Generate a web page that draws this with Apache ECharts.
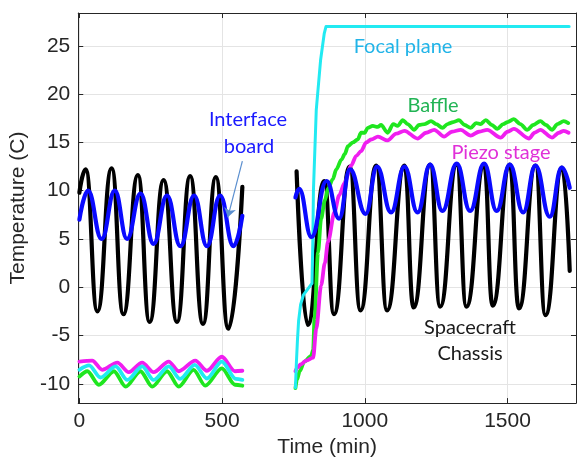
<!DOCTYPE html>
<html><head><meta charset="utf-8">
<script src="https://cdn.jsdelivr.net/npm/echarts@6/dist/echarts.min.js"></script>
<style>html,body{margin:0;padding:0;background:#fff}#c{width:577px;height:463px}</style>
</head><body><div id="c"></div>
<script>
// ---- data (time in min, temperature in C) ----
const chassisSeg1 = [[0,9.8],[22,12.2],[63,-2.5],[113,12.3],[154,-2.8],[205,11.6],[246,-3.6],[295,11.1],[342,-3.6],[388,11.5],[433,-3.8],[478,11.4],[522,-4.3],[571,10.4]];
const chassisSeg2 = [[761,12.0],[800,-3.9],[858,11.0],[892,-2.8],[947,12.5],[985,-2.4],[1040,12.6],[1078,-2.4],[1139,12.6],[1171,-2.1],[1229,12.7],[1264,-2.0],[1322,12.7],[1356,-2.0],[1418,12.7],[1448,-1.9],[1508,12.7],[1540,-2.2],[1598,12.6],[1633,-2.9],[1691,12.4],[1718,1.7]];
const boardSeg1 = [[0,7.0],[30,10.0],[78,5.0],[124,10.0],[167,5.0],[214,9.7],[260,4.5],[307,9.5],[354,4.25],[402,9.5],[447,4.25],[493,9.5],[540,4.25],[571,7.4]];
const boardSeg2 = [[757,9.3],[770,10.2],[813,5.2],[866,11.0],[910,7.1],[948,12.2],[1003,7.6],[1043,12.5],[1092,7.75],[1139,12.5],[1185,7.75],[1229,12.7],[1272,7.9],[1322,12.8],[1369,7.9],[1418,12.8],[1462,7.9],[1508,12.7],[1555,7.75],[1598,12.6],[1648,7.3],[1690,12.4],[1718,10.3]];
const focalSeg1 = [[0,-8.55],[34,-8.1],[74,-9.35],[127,-8.2],[168,-9.6],[220,-8.2],[260,-9.6],[313,-8.2],[353,-9.5],[404,-8.05],[447,-9.45],[499,-7.7],[548,-9.5],[571,-9.6]];
const focalSeg2 = [[757,-10.4],[760,-8.0],[764,-5.5],[768,-3.5],[775,-1.8],[785,-0.8],[800,-0.2],[815,0.4],[818,5.0],[820,10.0],[830,18.4],[845,23.5],[858,26.3],[864,27.0],[1000,27.0],[1200,27.0],[1400,27.0],[1600,27.0],[1716,27.0]];
const baffleSeg1 = [[0,-9.25],[28,-8.7],[68,-10.1],[121,-8.7],[162,-10.3],[214,-8.7],[255,-10.3],[307,-8.7],[348,-10.3],[400,-8.55],[441,-10.2],[499,-8.4],[545,-10.1],[571,-10.2]];
const baffleSeg2 = [[757,-10.45],[762,-9.6],[772,-8.7],[788,-7.7],[812,-7.1],[819,-6.5],[824,-3.2],[836,3.6],[847,7.1],[860,9.0],[871,10.2],[888,11.2],[900,12.2],[918,13.2],[930,13.8],[941,14.6],[958,15.0],[975,15.3],[987,16.0],[1000,16.0],[1010,16.5],[1028,16.7],[1045,16.6],[1057,16.8],[1080,16.0],[1100,16.9],[1115,16.7],[1133,17.3],[1150,16.9],[1173,16.3],[1190,16.8],[1210,16.9],[1232,17.2],[1250,16.9],[1272,16.5],[1290,16.9],[1310,17.1],[1330,17.3],[1350,16.8],[1371,16.5],[1390,17.0],[1405,16.9],[1424,17.3],[1445,16.8],[1464,16.4],[1485,16.9],[1500,17.1],[1522,17.4],[1545,16.9],[1569,16.3],[1590,16.8],[1615,17.2],[1635,16.8],[1656,16.3],[1675,16.9],[1697,17.2],[1713,17.0]];
const piezoSeg1 = [[0,-7.7],[45,-7.6],[80,-8.55],[133,-7.8],[173,-8.8],[220,-7.8],[260,-8.8],[313,-7.7],[348,-8.7],[406,-7.6],[447,-8.65],[499,-7.2],[545,-8.7],[571,-8.65]];
const piezoSeg2 = [[757,-8.7],[765,-8.3],[775,-8.0],[795,-7.6],[819,-7.3],[830,-4.3],[847,0.2],[860,2.5],[871,4.7],[894,7.8],[910,9.5],[929,10.8],[952,12.6],[970,13.6],[987,14.1],[1005,15.0],[1022,15.3],[1046,15.6],[1080,15.2],[1110,15.9],[1139,16.2],[1185,15.4],[1215,16.0],[1243,16.3],[1278,15.6],[1305,16.1],[1336,16.3],[1371,15.7],[1400,16.1],[1429,16.3],[1476,15.5],[1500,16.1],[1522,16.4],[1575,15.4],[1595,16.0],[1615,16.3],[1656,15.5],[1680,16.0],[1697,16.2],[1714,16.0]];
const arrowFrom = [571, 13.07];
const arrowTo = [520, 7.24];
const xRange = [-4, 1740];
const yRange = [-12, 28.4];

// ---- chart ----
const chart = echarts.init(document.getElementById('c'), null, {renderer:'canvas'});
const AX = '#262626', GRID = '#e4e4e4', TF = 'Liberation Sans', TS = 21;
const AF = 'Lato', AS = 20;
function line(name, data, color, width, smooth, z, extra) {
  return Object.assign({type:'line', name, data, showSymbol:false, symbol:'none', smooth, smoothMonotone:'x',
    lineStyle:{color, width, cap:'round', join:'round'}, z, silent:true}, extra||{});
}
function note(text, x, y, fill) {
  return {type:'text', x, y, z:20, style:{text, fill, fontSize:AS, fontFamily:AF, align:'center', verticalAlign:'middle'}};
}
const option = {
  animation:false,
  grid:{left:76, top:13, right:1, bottom:58},
  xAxis:[
    {type:'value', min:xRange[0], max:xRange[1], splitNumber:4, position:'bottom',
     axisLine:{show:true, onZero:false, lineStyle:{color:AX, width:1}},
     axisTick:{show:true, inside:true, length:5, lineStyle:{color:AX}},
     axisLabel:{showMinLabel:false, showMaxLabel:false, color:AX, fontSize:TS, fontFamily:TF, margin:8, formatter:v => String(v)},
     splitLine:{show:true, lineStyle:{color:GRID, width:1}},
     name:'Time (min)', nameLocation:'middle', nameGap:33, nameTextStyle:{color:AX, fontSize:TS, fontFamily:TF}},
    {type:'value', min:xRange[0], max:xRange[1], splitNumber:4, position:'top',
     axisLine:{show:true, onZero:false, lineStyle:{color:AX, width:1}},
     axisTick:{show:true, inside:true, length:5, lineStyle:{color:AX}},
     axisLabel:{show:false}, splitLine:{show:false}}
  ],
  yAxis:[
    {type:'value', min:yRange[0], max:yRange[1], splitNumber:8, position:'left',
     axisLine:{show:true, onZero:false, lineStyle:{color:AX, width:1}},
     axisTick:{show:true, inside:true, length:5, lineStyle:{color:AX}},
     axisLabel:{showMinLabel:false, showMaxLabel:false, color:AX, fontSize:TS, fontFamily:TF, margin:8, formatter:v => String(v)},
     splitLine:{show:true, lineStyle:{color:GRID, width:1}},
     name:'Temperature (C)', nameLocation:'middle', nameGap:44, nameTextStyle:{color:AX, fontSize:TS, fontFamily:TF}},
    {type:'value', min:yRange[0], max:yRange[1], splitNumber:8, position:'right',
     axisLine:{show:true, onZero:false, lineStyle:{color:AX, width:1}},
     axisTick:{show:true, inside:true, length:5, lineStyle:{color:AX}},
     axisLabel:{show:false}, splitLine:{show:false}}
  ],
  series:[
    line('Spacecraft Chassis', chassisSeg1, '#000000', 4.2, 0.5, 2),
    line('Spacecraft Chassis 2', chassisSeg2, '#000000', 4.2, 0.5, 2),
    line('Baffle', baffleSeg1, '#1fe61f', 3.8, 0.3, 3),
    line('Baffle 2', baffleSeg2, '#1fe61f', 3.8, 0.3, 3),
    line('Piezo stage', piezoSeg1, '#f01ef0', 3.8, 0.3, 4),
    line('Piezo stage 2', piezoSeg2, '#f01ef0', 3.8, 0.3, 4),
    line('Focal plane', focalSeg1, '#22eaf2', 3.8, 0.3, 5),
    line('Focal plane 2', focalSeg2, '#22eaf2', 3, false, 5),
    line('Interface board', boardSeg1, '#0a0aff', 4.2, 0.45, 6, {
      markLine:{silent:true, symbol:['none','arrow'], symbolSize:9, z:10,
        lineStyle:{color:'#5b8fcf', width:1.2, type:'solid'}, label:{show:false},
        data:[[{coord:arrowFrom},{coord:arrowTo}]]}
    }),
    line('Interface board 2', boardSeg2, '#0a0aff', 4.2, 0.45, 6)
  ],
  graphic:[
    note('Focal plane', 403, 47, '#22b4e8'),
    note('Baffle', 433, 106, '#22b455'),
    note('Piezo stage', 501, 153, '#e030d8'),
    note('Interface', 248, 120, '#1a1aff'),
    note('board', 249, 147, '#1a1aff'),
    note('Spacecraft', 470, 328, '#1a1a1a'),
    note('Chassis', 470, 354, '#1a1a1a')
  ]
};
chart.setOption(option);
</script></body></html>
